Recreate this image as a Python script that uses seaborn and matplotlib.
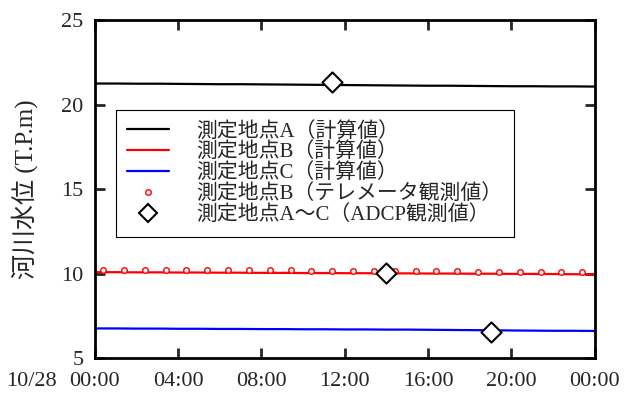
import numpy as np
import pandas as pd
import matplotlib
matplotlib.use("Agg")
import matplotlib.pyplot as plt
import seaborn as sns
from matplotlib.lines import Line2D

# Time axis (hours from 10/28 00:00)
hours = list(range(0, 25))

# Computed water levels (T.P.m) at each site
level_a = [21.25, 21.25, 21.24, 21.24, 21.23, 21.22, 21.21, 21.21, 21.20, 21.19,
           21.18, 21.17, 21.16, 21.15, 21.14, 21.13, 21.12, 21.12, 21.11, 21.10,
           21.09, 21.09, 21.08, 21.08, 21.07]
level_b = [10.08, 10.08, 10.07, 10.07, 10.06, 10.06, 10.05, 10.05, 10.04, 10.04,
           10.03, 10.03, 10.02, 10.02, 10.01, 10.01, 10.00, 10.00, 9.99, 9.99,
           9.98, 9.98, 9.97, 9.96, 9.95]
level_c = [6.75, 6.75, 6.74, 6.74, 6.73, 6.73, 6.72, 6.72, 6.71, 6.71,
           6.70, 6.70, 6.69, 6.69, 6.68, 6.68, 6.67, 6.66, 6.65, 6.64,
           6.63, 6.62, 6.61, 6.61, 6.60]

# Telemetry observations at site B
tele_hours = [0.4 + i for i in range(24)]
tele_level = [10.22, 10.22, 10.21, 10.21, 10.20, 10.20, 10.19, 10.19, 10.18, 10.18,
              10.17, 10.17, 10.16, 10.16, 10.15, 10.15, 10.14, 10.13, 10.12, 10.12,
              10.11, 10.10, 10.09, 10.08]

# ADCP observations at sites A, B, C
adcp_hours = [11.4, 14.0, 19.0]
adcp_level = [21.37, 10.02, 6.55]

tick_hours = [0, 4, 8, 12, 16, 20, 24]
tick_labels = ["00:00", "04:00", "08:00", "12:00", "16:00", "20:00", "00:00"]
date_label = "10/28"

legend_labels = ["測定地点A（計算値）", "測定地点B（計算値）", "測定地点C（計算値）",
                 "測定地点B（テレメータ観測値）", "測定地点A～C（ADCP観測値）"]

sns.set_theme(style="white")
plt.rcParams["font.family"] = ["Liberation Serif", "Noto Sans CJK JP", "DejaVu Sans"]

fig = plt.figure(figsize=(6.32, 3.96), dpi=100)
ax = fig.add_axes([0.150, 0.096, 0.791, 0.853])

calc = pd.DataFrame({"hour": hours * 3,
                     "level": level_a + level_b + level_c,
                     "site": ["A"] * 25 + ["B"] * 25 + ["C"] * 25})
sns.lineplot(data=calc, x="hour", y="level", hue="site",
             palette={"A": "black", "B": "#ff0000", "C": "#0000ff"},
             linewidth=1.6, legend=False, ax=ax)

sns.scatterplot(x=tele_hours, y=tele_level, marker="o", s=16,
                facecolor="white", edgecolor="#ff0000", linewidth=1.0,
                zorder=4, ax=ax)
sns.scatterplot(x=adcp_hours, y=adcp_level, marker="D", s=105,
                facecolor="white", edgecolor="black", linewidth=1.5,
                zorder=5, ax=ax)

ax.set_xlim(0, 24)
ax.set_ylim(5, 25)
ax.set_xticks(tick_hours)
ax.set_xticklabels(tick_labels)
ax.set_yticks([5, 10, 15, 20, 25])
ax.set_xlabel("")
ax.set_ylabel("河川水位 (T.P.m)", fontsize=18, va="center")
ax.yaxis.set_label_coords(-0.14, 0.50)

ax.tick_params(axis="both", direction="in", length=7, width=2,
               labelsize=16, top=True, right=True, bottom=True, left=True,
               pad=8)
ax.tick_params(axis="x", pad=10)
for sp in ax.spines.values():
    sp.set_linewidth(2)
    sp.set_color("black")

# Date printed just left of the first time label
ax.annotate(date_label, xy=(0, 0.5), xycoords=ax.get_xticklabels()[0],
            xytext=(-9, 0), textcoords="offset points",
            ha="right", va="center", fontsize=16)

handles = [
    Line2D([], [], color="black", lw=1.6),
    Line2D([], [], color="#ff0000", lw=1.6),
    Line2D([], [], color="#0000ff", lw=1.6),
    Line2D([], [], ls="none", marker="o", ms=4, mfc="white", mec="#ff0000", mew=1.0),
    Line2D([], [], ls="none", marker="D", ms=9, mfc="white", mec="black", mew=1.5),
]
leg = ax.legend(handles, legend_labels, loc="upper left",
                bbox_to_anchor=(0.042, 0.734), fontsize=15, frameon=True,
                fancybox=False, edgecolor="black", framealpha=1,
                handlelength=2.0, handletextpad=1.3, labelspacing=0.05,
                borderpad=0.55, borderaxespad=0)
leg.get_frame().set_linewidth(0.8)

fig.savefig("out.png", dpi=100)
